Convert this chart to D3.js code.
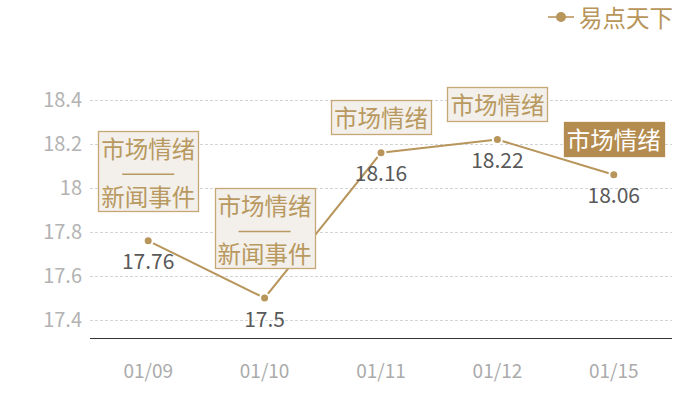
<!DOCTYPE html>
<html><head><meta charset="utf-8">
<script src="https://cdn.jsdelivr.net/npm/d3@7"></script>
<style>body{margin:0;background:#fff}svg{display:block}</style>
</head><body>
<svg id="c" width="700" height="400"></svg>
<script>
const categories = ["01/09","01/10","01/11","01/12","01/15"];
const values = [17.76, 17.5, 18.16, 18.22, 18.06];
const yTicks = [17.4, 17.6, 17.8, 18, 18.2, 18.4];
const annotations = [
  ["市场情绪","新闻事件"],
  ["市场情绪","新闻事件"],
  ["市场情绪"],
  ["市场情绪"],
  ["市场情绪"]
];
const highlighted = [false,false,false,false,true];
const seriesName = "易点天下";

const font = "'Noto Sans CJK SC','Noto Sans',sans-serif";
const gold = "#b8955a";
const svg = d3.select("#c");
const left = 90, right = 672;
const x = d3.scaleBand().domain(categories).range([left, right]);
const y = d3.scaleLinear().domain([17.4, 18.4]).range([320, 100]);
const baseY = y(17.32);

// gridlines
svg.append("g").selectAll("line").data(yTicks).join("line")
  .attr("x1", left).attr("x2", right)
  .attr("y1", d => Math.round(y(d))+0.5).attr("y2", d => Math.round(y(d))+0.5)
  .attr("stroke", "#d4d4d4").attr("stroke-dasharray", "3,2").attr("stroke-width",1);

// y labels
const yAxis = d3.axisLeft(y).tickValues(yTicks).tickSize(0).tickPadding(8).tickFormat(d => d3.format("")(d));
const ya = svg.append("g").attr("transform", `translate(${left},0)`).call(yAxis);
ya.select(".domain").remove();
ya.selectAll("text").attr("fill", "#b3b3b3").style("font-size", "20px").style("font-family", font);

// x axis
const xAxis = d3.axisBottom(x).tickSize(0).tickPadding(26);
const xa = svg.append("g").attr("transform", `translate(0,${Math.round(baseY)+0.5})`).call(xAxis);
xa.select(".domain").attr("stroke", "#333").attr("d", `M${left},0H${right}`);
xa.selectAll("text").attr("fill", "#ababab").style("font-size", "19px").style("font-family", font);

const cx = d => x(d) + x.bandwidth()/2;

// line
svg.append("path").datum(values)
  .attr("fill","none").attr("stroke", gold).attr("stroke-width", 2)
  .attr("d", d3.line().x((d,i) => cx(categories[i])).y(d => y(d)));

// points
svg.append("g").selectAll("circle").data(values).join("circle")
  .attr("cx", (d,i) => cx(categories[i])).attr("cy", d => y(d)).attr("r", 4.5)
  .attr("fill", gold).attr("stroke", "#fff").attr("stroke-width", 2);

// value labels
svg.append("g").selectAll("text").data(values).join("text")
  .attr("x", (d,i) => cx(categories[i])).attr("y", d => y(d) + 28.5)
  .attr("text-anchor","middle").attr("fill", "#595959")
  .style("font-size","21px").style("font-family", font)
  .text(d => d3.format("")(d));

// annotations
annotations.forEach((lines, i) => {
  const px = cx(categories[i]), py = y(values[i]);
  const two = lines.length === 2;
  const bw = 100, bh = two ? 80 : 34;
  const bottom = py - (two ? 30 : 18.5);
  const top = bottom - bh;
  const g = svg.append("g");
  const hl = highlighted[i];
  g.append("rect").attr("x", Math.round(px - bw/2)+0.5).attr("y", Math.round(top)+0.5)
    .attr("width", bw).attr("height", bh)
    .attr("fill", hl ? "#b58c4f" : "#f3efea")
    .attr("stroke", hl ? "#b58c4f" : "#c6a877").attr("stroke-width", 1.3);
  const tc = hl ? "#ffffff" : "#b8995f";
  g.append("text").attr("x", px).attr("y", top + 27).attr("text-anchor","middle")
    .attr("fill", tc).style("font-size","23.5px").style("font-family", font).text(lines[0]);
  if (two) {
    g.append("line").attr("x1", px-26).attr("x2", px+26).attr("y1", top+43.5).attr("y2", top+43.5)
      .attr("stroke", tc).attr("stroke-width", 1.6);
    g.append("text").attr("x", px).attr("y", top + 75).attr("text-anchor","middle")
      .attr("fill", tc).style("font-size","23.5px").style("font-family", font).text(lines[1]);
  }
});

// legend
const lg = svg.append("g");
lg.append("line").attr("x1", 548).attr("x2", 574).attr("y1", 17).attr("y2", 17)
  .attr("stroke", "#c8ab7e").attr("stroke-width", 2);
lg.append("circle").attr("cx", 561).attr("cy", 17).attr("r", 5).attr("fill", gold);
lg.append("text").attr("x", 579).attr("y", 27).attr("fill", "#b8955a")
  .style("font-size","23.5px").style("font-family", font).text(seriesName);
</script>
</body></html>
